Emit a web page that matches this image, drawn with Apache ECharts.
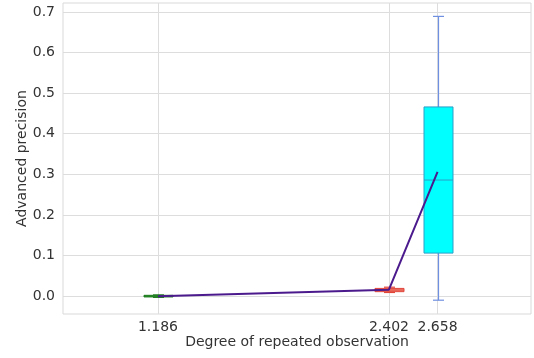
<!DOCTYPE html>
<html>
<head>
<meta charset="utf-8">
<script src="https://cdn.jsdelivr.net/npm/echarts@6/dist/echarts.min.js"></script>
<style>html,body{margin:0;padding:0;background:#fff;}#c{width:534px;height:358px;}</style>
</head>
<body>
<div id="c"></div>
<script>
const positions = [1.186, 2.402, 2.658];
const mins = [-0.003, 0.009, -0.010];
const q1s = [-0.002, 0.011, 0.106];
const medians = [0.000, 0.015, 0.286];
const q3s = [0.002, 0.019, 0.466];
const maxs = [0.003, 0.022, 0.689];
const means = [0.000, 0.016, 0.306];
const yTicks = [0.0, 0.1, 0.2, 0.3, 0.4, 0.5, 0.6, 0.7];
const xTicks = [1.186, 2.402, 2.658];

const fills = ['#2db52d', '#f08a7a', '#00ffff'];
const borders = ['#1f7a1f', '#e0453a', '#2a9fc8'];
const whiskerColors = ['#1f7a1f', '#e0453a', '#6f8fe0'];

const font = 'DejaVu Sans';
const chart = echarts.init(document.getElementById('c'), null, {renderer: 'canvas'});

const boxRows = positions.map((x, i) => [x, mins[i], q1s[i], medians[i], q3s[i], maxs[i]]);
const meanData = positions.map((x, i) => [x, means[i]]);

const BOX_W = 29, CAP_W = 11;

function renderBox(params, api) {
  const i = params.dataIndex;
  const x = api.value(0);
  const pMin = api.coord([x, api.value(1)]);
  const pQ1 = api.coord([x, api.value(2)]);
  const pMed = api.coord([x, api.value(3)]);
  const pQ3 = api.coord([x, api.value(4)]);
  const pMax = api.coord([x, api.value(5)]);
  const cx = Math.round(pQ1[0]) + 0.5;
  const wStyle = {stroke: whiskerColors[i], lineWidth: 1.2};
  return {
    type: 'group',
    children: [
      {type: 'line', shape: {x1: cx, y1: pQ3[1], x2: cx, y2: pMax[1]}, style: wStyle},
      {type: 'line', shape: {x1: cx, y1: pQ1[1], x2: cx, y2: pMin[1]}, style: wStyle},
      {type: 'line', shape: {x1: cx - CAP_W / 2, y1: pMax[1], x2: cx + CAP_W / 2, y2: pMax[1]}, style: wStyle},
      {type: 'line', shape: {x1: cx - CAP_W / 2, y1: pMin[1], x2: cx + CAP_W / 2, y2: pMin[1]}, style: wStyle},
      {type: 'rect', shape: {x: cx - BOX_W / 2, y: pQ3[1], width: BOX_W, height: Math.max(pQ1[1] - pQ3[1], 1)},
        style: {fill: fills[i], stroke: borders[i], lineWidth: 1}},
      {type: 'line', shape: {x1: cx - BOX_W / 2, y1: pMed[1], x2: cx + BOX_W / 2, y2: pMed[1]},
        style: {stroke: borders[i], lineWidth: 1}}
    ]
  };
}

chart.setOption({
  animation: false,
  backgroundColor: '#ffffff',
  grid: {left: 63, right: 3, top: 3, bottom: 44, show: true, borderColor: '#d9d9d9', borderWidth: 1},
  xAxis: {
    type: 'value', min: 0.686, max: 3.15,
    name: 'Degree of repeated observation', nameLocation: 'middle', nameGap: 21, nameMoveOverlap: false,
    nameTextStyle: {fontFamily: font, fontSize: 14, color: '#333'},
    axisLine: {show: false}, axisTick: {show: false, customValues: xTicks},
    axisLabel: {customValues: xTicks, fontFamily: font, fontSize: 14, color: '#333', margin: 6,
      formatter: v => v.toFixed(3)},
    splitLine: {show: true, lineStyle: {color: '#dddddd', width: 1}}
  },
  yAxis: {
    type: 'value', min: -0.044, max: 0.722,
    name: 'Advanced precision', nameLocation: 'middle', nameGap: 34, nameMoveOverlap: false,
    nameTextStyle: {fontFamily: font, fontSize: 14, color: '#333'},
    axisLine: {show: false}, axisTick: {show: false, customValues: yTicks},
    axisLabel: {customValues: yTicks, fontFamily: font, fontSize: 14, color: '#333', margin: 8,
      formatter: v => v.toFixed(1)},
    splitLine: {show: true, lineStyle: {color: '#dddddd', width: 1}}
  },
  series: [
    {type: 'custom', data: boxRows, renderItem: renderBox, encode: {x: 0, y: [1, 2, 3, 4, 5]}, z: 3, clip: true},
    {type: 'line', data: meanData, symbol: 'none', z: 4,
      lineStyle: {color: '#4b1a8c', width: 2}}
  ]
});
</script>
</body>
</html>
